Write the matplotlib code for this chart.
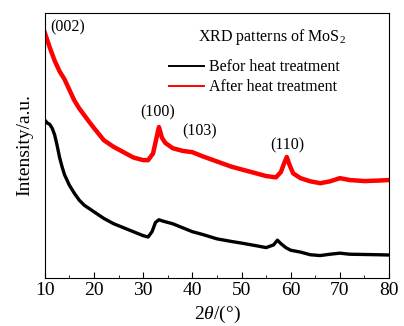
import numpy as np
from matplotlib import pyplot as plt
from matplotlib.ticker import MultipleLocator

plt.rcParams['font.family'] = ['Liberation Serif', 'DejaVu Serif']
plt.rcParams['mathtext.fontset'] = 'custom'
plt.rcParams['mathtext.rm'] = 'Liberation Serif'
plt.rcParams['mathtext.it'] = 'Liberation Serif:italic'

# values (arbitrary intensity units)
x_after = [10, 11, 12, 13, 14, 15, 16, 17, 18, 19, 20, 22, 24, 26, 28, 30, 31, 32, 32.6, 33.2,
           33.8, 34.5, 36, 38, 40, 42, 45, 48, 50, 53, 55, 57, 58, 58.6, 59.2, 59.8, 60.5,
           62, 64, 66, 68, 70, 72, 75, 78, 80]
y_after = [92.5, 87, 82, 78, 75, 71, 67, 64, 61.5, 59, 56.6, 52, 49.5, 47.5, 45.5, 44.5, 44.5,
           47, 52, 57, 53, 51, 49, 48, 47.5, 46, 44, 42, 41, 39.5, 38.5, 38, 40, 43, 45.7, 42.5,
           39.5, 37.7, 36.5, 35.8, 36.5, 37.7, 37, 36.6, 36.8, 37]
x_before = [10, 10.5, 11, 11.5, 12, 12.5, 13, 13.5, 14, 15, 16, 17, 18, 20, 22, 24, 26, 28, 30,
            31, 31.8, 32.5, 33.2, 34, 36, 38, 40, 42, 45, 48, 50, 53, 55, 56.5, 57.3, 58,
            59, 60, 62, 64, 66, 68, 70, 72, 75, 78, 80]
y_before = [59.6, 58.5, 58, 56.5, 54, 50, 45.5, 42, 39, 35, 32, 29.4, 27.5, 25, 22.5, 20.5, 19,
            17.5, 16, 15.5, 17.5, 21, 22, 21.5, 20.5, 19, 17.5, 16.5, 14.8, 13.8, 13.2, 12.2,
            11.5, 12.5, 14.3, 13, 11.5, 10.5, 9.8, 8.8, 8.5, 9, 9.4, 9, 8.9, 8.8, 8.7]

peak_labels = ['(002)', '(100)', '(103)', '(110)']
peak_x = [11.2, 32.9, 41.5, 59.3]
peak_y = [91.5, 59.5, 52.5, 47.0]

fig = plt.figure(figsize=(4.04, 3.26), dpi=100)
ax = fig.add_axes([0.111, 0.147, 0.852, 0.813])

ax.plot(x_before, y_before, color='black', lw=2.4, label='Befor heat treatment')
ax.plot(x_after, y_after, color='red', lw=3.2, label='After heat treatment')

for lab, px, py in zip(peak_labels, peak_x, peak_y):
    ha = 'left' if lab == '(002)' else 'center'
    ax.text(px, py, lab, ha=ha, va='bottom', fontsize=11.5)

ax.text(0.66, 0.91, r'XRD patterns of MoS$_2$', transform=ax.transAxes,
        ha='center', va='center', fontsize=11.5)

leg = ax.legend(loc='upper left', bbox_to_anchor=(0.36, 0.825), frameon=False,
                fontsize=11.5, handlelength=2.2, handletextpad=0.35, labelspacing=0.25,
                borderpad=0, borderaxespad=0)
for line in leg.get_lines():
    line.set_linewidth(1.4)

ax.set_xlim(10, 80)
ax.set_ylim(0, 100)
ax.set_yticks([])
ax.xaxis.set_major_locator(MultipleLocator(10))
ax.xaxis.set_minor_locator(MultipleLocator(5))
ax.tick_params(axis='x', which='major', direction='in', length=4, labelsize=14, pad=3)
ax.tick_params(axis='x', which='minor', direction='in', length=2.5)
ax.set_xlabel(r'2$\it{\theta}$/(°)', fontsize=14, labelpad=3)
ax.set_ylabel('Intensity/a.u.', fontsize=14, labelpad=8)

fig.savefig('out.png', dpi=100)
